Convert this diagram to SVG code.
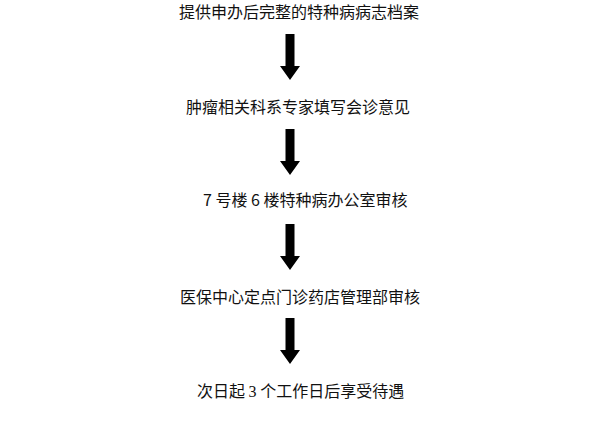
<svg xmlns="http://www.w3.org/2000/svg" width="600" height="421" viewBox="0 0 600 421">
<defs>
<style>
.t{font-family:"Noto Sans CJK SC","Liberation Sans",sans-serif;font-size:16px;fill:#111}
.n{font-family:"Liberation Serif",serif}
.a{fill:#000}
</style>
<path id="arr" d="M-4.5,0 H4.5 V32 H10 L0,46 L-10,32 H-4.5 Z"/>
</defs>
<rect width="600" height="421" fill="#fff"/>
<g id="n1"><text class="t" x="179" y="18">提供申办后完整的特种病病志档案</text></g>
<g id="n2"><text class="t" x="186" y="113">肿瘤相关科系专家填写会诊意见</text></g>
<g id="n3"><text class="t" x="203" y="206">7 号楼 6 楼特种病办公室审核</text></g>
<g id="n4"><text class="t" x="180" y="303">医保中心定点门诊药店管理部审核</text></g>
<g id="n5"><text class="t" x="197" y="397">次日起 <tspan class="n">3</tspan> 个工作日后享受待遇</text></g>
<g id="connectors" class="a">
<use href="#arr" x="290" y="34"/>
<use href="#arr" x="290" y="129"/>
<use href="#arr" x="290" y="224"/>
<use href="#arr" x="290" y="318"/>
</g>
</svg>
